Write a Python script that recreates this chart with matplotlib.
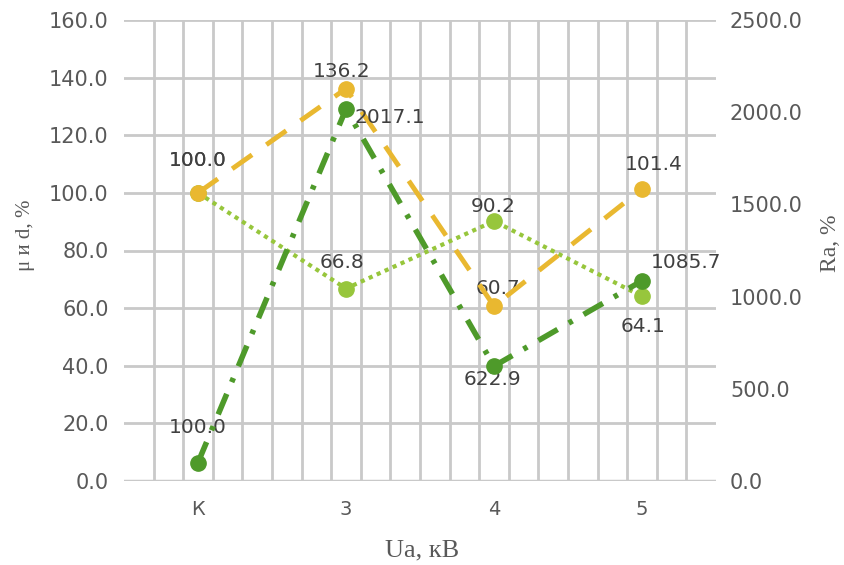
import matplotlib
matplotlib.use("Agg")
import matplotlib.pyplot as plt
import numpy as np

categories = ["К", "3", "4", "5"]
mu_values = [100.0, 136.2, 60.7, 101.4]
d_values = [100.0, 66.8, 90.2, 64.1]
ra_values = [100.0, 2017.1, 622.9, 1085.7]
left_ticks = [0, 20, 40, 60, 80, 100, 120, 140, 160]
right_ticks = [0, 500, 1000, 1500, 2000, 2500]

YELLOW = "#E9B830"
LGREEN = "#97C63C"
DGREEN = "#4E9A2A"
GRID = "#C9C9C9"
TXT = "#595959"
LAB = "#404040"

fig = plt.figure(figsize=(8.45, 5.65), dpi=100)
ax = fig.add_axes([124/845, 1-481/565, (716-124)/845, (481-20)/565])
x = np.arange(len(categories))

ax.set_xlim(-0.5, len(categories) - 0.5)
ax.set_ylim(0, 160)
ax.set_yticks(left_ticks)
ax.set_yticklabels([f"{v:.1f}" for v in left_ticks])
ax.set_xticks(x)
ax.set_xticklabels(categories)
ax.set_xticks(np.arange(-0.3, 3.31, 0.2), minor=True)
ax.grid(axis="y", which="major", color=GRID, lw=2)
ax.grid(axis="x", which="minor", color=GRID, lw=2)
ax.set_axisbelow(True)
for s in ax.spines.values():
    s.set_visible(False)
ax.tick_params(axis="both", which="both", length=0, colors=TXT, labelsize=15)
ax.tick_params(axis="y", pad=11)
ax.tick_params(axis="x", pad=14, labelsize=14)

ax.plot(x, d_values, color=LGREEN, lw=3, linestyle=(0, (1, 1.1)), marker="o",
        markersize=11, markerfacecolor=LGREEN, markeredgecolor=LGREEN, zorder=3)
ax.plot(x, mu_values, color=YELLOW, lw=3.5, linestyle=(0, (5, 3.6)), marker="o",
        markersize=11, markerfacecolor=YELLOW, markeredgecolor=YELLOW, zorder=4)

ax2 = ax.twinx()
ax2.set_ylim(0, 2500)
ax2.set_yticks(right_ticks)
ax2.set_yticklabels([f"{v:.1f}" for v in right_ticks])
for s in ax2.spines.values():
    s.set_visible(False)
ax2.tick_params(axis="y", length=0, colors=TXT, labelsize=15, pad=10)
ax2.plot(x, ra_values, color=DGREEN, lw=4, linestyle=(0, (4, 2.3, 0.8, 2.3)), marker="o",
         markersize=11, markerfacecolor=DGREEN, markeredgecolor=DGREEN, zorder=5)

lab_kw = dict(fontsize=14.5, color=LAB, textcoords="offset pixels")
# yellow labels (offsets in pixels: dx, dy, ha)
mu_off = [(0, 32, "center"), (-4, 17, "center"), (4, 18, "center"), (12, 24, "center")]
for xi, v, (dx, dy, ha) in zip(x, mu_values, mu_off):
    ax.annotate(f"{v:.1f}", (xi, v), xytext=(dx, dy), ha=ha, va="center", **lab_kw)
# light green labels
d_off = [(0, 32, "center"), (-4, 26, "center"), (-1, 15, "center"), (1, -30, "center")]
for xi, v, (dx, dy, ha) in zip(x, d_values, d_off):
    ax.annotate(f"{v:.1f}", (xi, v), xytext=(dx, dy), ha=ha, va="center", **lab_kw)
# dark green labels
r_off = [(0, 35, "center"), (8, -8, "left"), (-2, -13, "center"), (9, 18, "left")]
for xi, v, (dx, dy, ha) in zip(x, ra_values, r_off):
    ax2.annotate(f"{v:.1f}", (xi, v), xytext=(dx, dy), ha=ha, va="center", **lab_kw)

# bottom axis line
ax.axhline(0, color=GRID, lw=2.5, zorder=1)

fig.text(26/845, 1-235/565, "μ и d, %", family="Liberation Serif", fontsize=15,
         color=TXT, rotation=90, ha="center", va="center")
fig.text(831/845, 1-243/565, "Ra, %", family="Liberation Serif", fontsize=17,
         color=TXT, rotation=90, ha="center", va="center")
fig.text(422/845, 1-550/565, "Ua, кВ", family="Liberation Serif", fontsize=19,
         color=TXT, ha="center", va="center")

fig.savefig("out.png", dpi=100)
